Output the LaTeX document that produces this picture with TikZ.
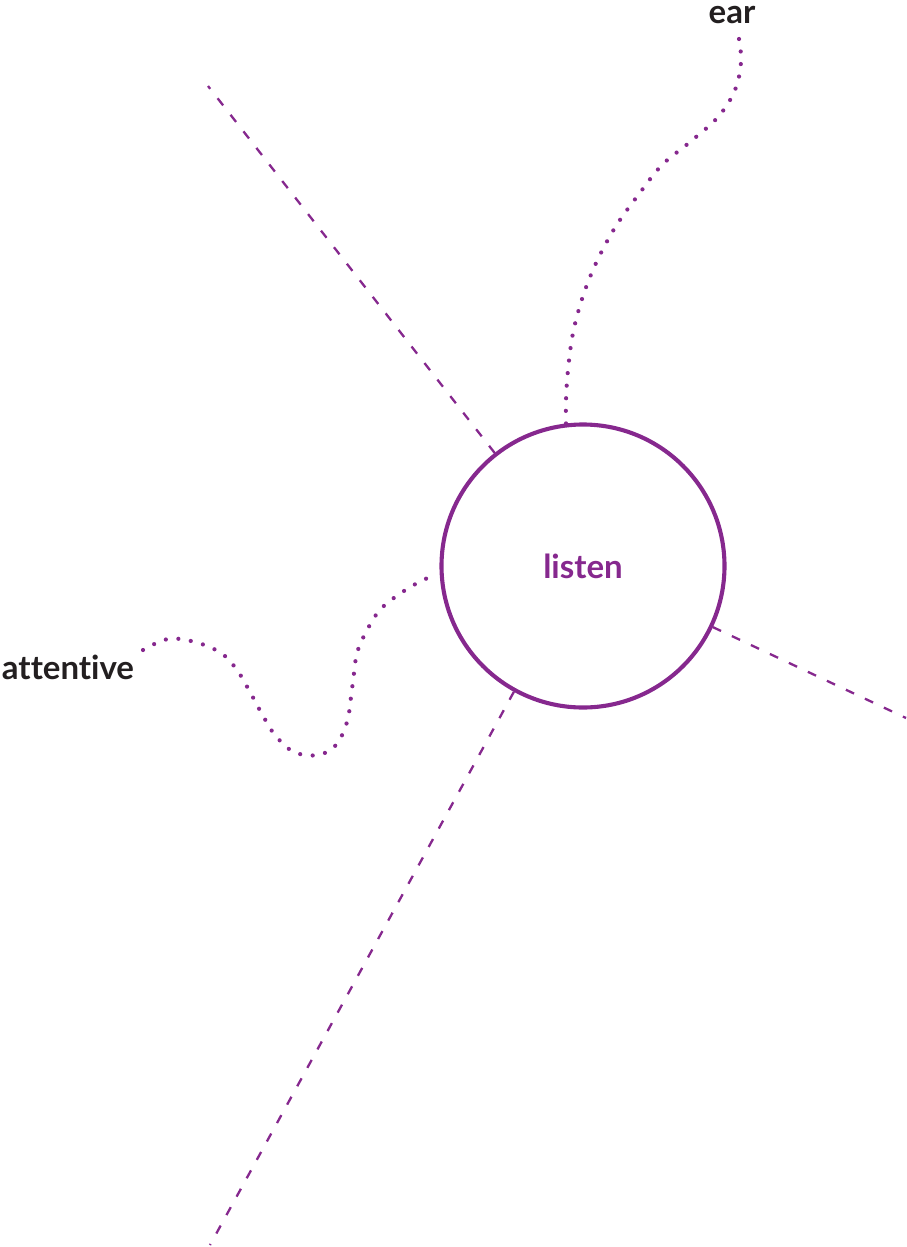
\documentclass[tikz,border=0pt]{standalone}
\usepackage{fontspec}
\setmainfont{Lato}[Ligatures=NoCommon]
\definecolor{lpurple}{HTML}{86288E}
\definecolor{ltext}{HTML}{231F20}
\begin{document}
\begin{tikzpicture}[x=1pt,y=-1pt,
  hub/.style={circle,draw=lpurple,line width=4.1pt,minimum size=283pt,inner sep=0pt,
    text=lpurple,font=\fontsize{33}{33}\selectfont\bfseries},
  lbl/.style={text=ltext,inner sep=0pt,anchor=base,font=\fontsize{33}{33}\selectfont\bfseries},
  dashline/.style={draw=lpurple,line width=2.3pt,dash pattern=on 9pt off 12pt},
  dotline/.style={draw=lpurple,line width=4.2pt,line cap=round,dash pattern=on 0pt off 12.6pt}]
\useasboundingbox (0,0) rectangle (906,1247);
\node[hub] (listen) at (583,566) {listen};
\node[lbl,text height=17pt,text depth=0pt] (ear) at (732,24) {ear};
\node[lbl] (att) at (68,679) {attentive};
\coordinate (d1) at (208,86);
\coordinate (d2) at (906,718);
\coordinate (d3) at (210,1245);
\coordinate (e0) at (739,39);
\coordinate (e1) at (566,424);
\coordinate (a0) at (143,650);
\coordinate (a1) at (434,576);
\draw[dashline] (listen) -- (d1);
\draw[dashline] (listen) -- (d2);
\draw[dashline] (listen) -- (d3);
\draw[dotline] plot[smooth,tension=0.6] coordinates {(e0) (741,62) (735,90) (718,117) (690,142) (662,165) (639,194) (616,226) (597,261) (583,296) (573,333) (568,370) (566,400) (e1)};
\draw[dotline] plot[smooth,tension=0.6] coordinates {(a0) (168,639) (195,642) (221,653) (237,670) (250,692) (262,714) (275,735) (294,752) (318,755) (336,745) (347,722) (351,697) (354,673) (357,653) (365,634) (379,611) (398,595) (421,581) (a1)};
\end{tikzpicture}
\end{document}
